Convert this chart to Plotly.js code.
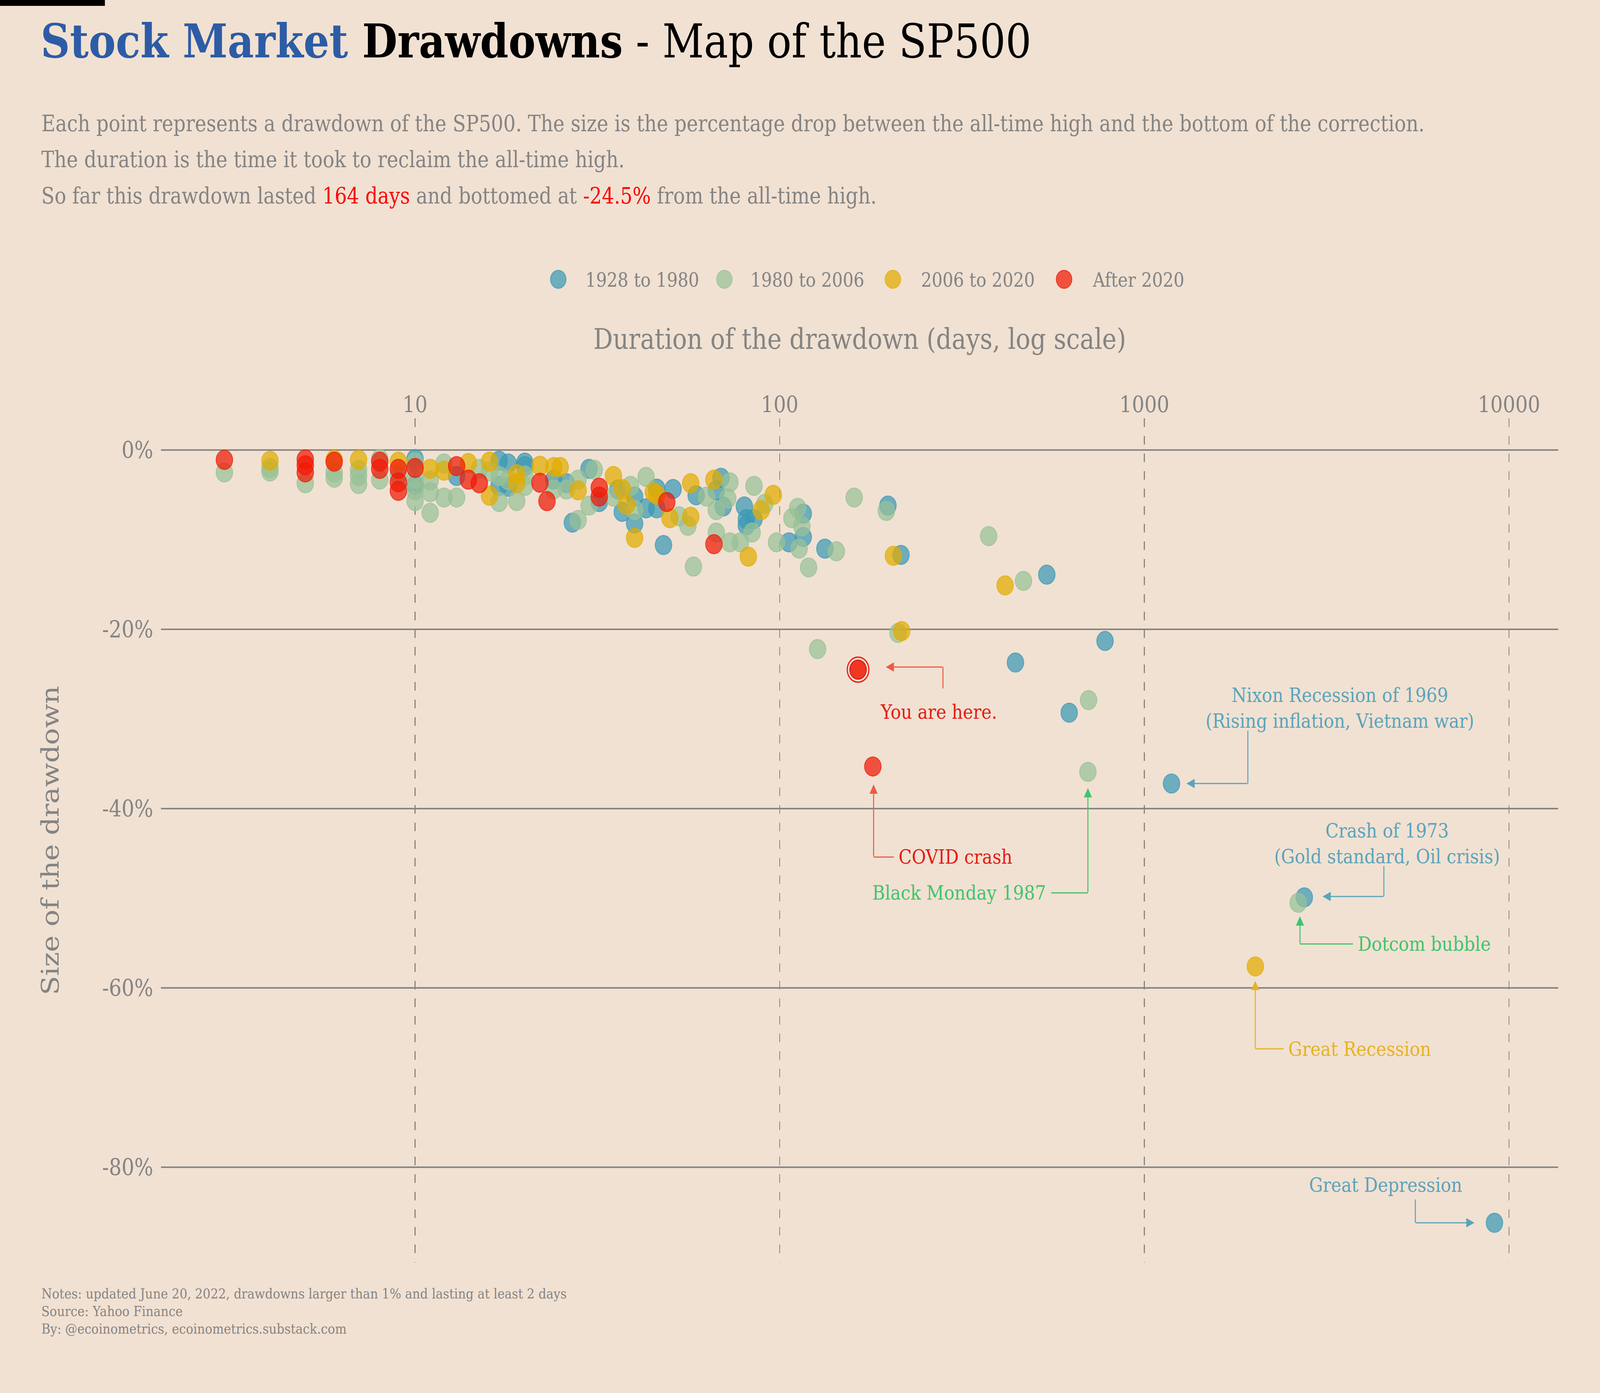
<!DOCTYPE html>
<html>
<head>
<meta charset="utf-8">
<script src="https://cdn.plot.ly/plotly-3.0.1.min.js"></script>
<style>
html,body{margin:0;padding:0;background:#f1e1d2;overflow:hidden;width:100%;height:100%;}
#frame{position:relative;width:100vw;height:100vh;overflow:hidden;}
#chart{position:absolute;left:0;top:0;width:4729px;height:3566px;transform-origin:0 0;}
</style>
</head>
<body>
<div id="frame"><div id="chart"></div></div>
<script>
// ---------------- DATA ----------------
// Duration of the drawdown (days) and size of the drawdown (%)
const era1928Days = [10,10,13,17,17,18,18,20,20,24,26,27,30,32,36,37,40,40,43,46,46,48,51,59,67,69,70,80,81,81,85,106,116,116,133,198,215,443,540,622,780,1187,2745,9120];
const era1928Drop = [-1.0,-3.9,-2.9,-1.2,-4.0,-1.5,-4.1,-1.8,-1.4,-3.3,-3.7,-8.1,-2.1,-5.8,-4.4,-6.9,-5.2,-8.2,-6.5,-4.3,-6.5,-10.6,-4.35,-5.05,-4.5,-3.1,-6.3,-6.3,-7.7,-8.4,-7.7,-10.3,-7.1,-9.7,-11.0,-6.2,-11.7,-23.7,-13.9,-29.3,-21.3,-37.2,-49.9,-86.2];

const era1980Days = [3,4,4,5,6,6,7,7,7,8,8,9,10,10,10,10,11,11,11,12,12,13,15,16,17,17,18,19,20,20,24,26,28,28,30,31,35,39,40,43,53,56,58,63,67,67,72,73,73,78,84,85,91,98,108,112,113,115,120,127,143,160,196,211,374,466,700,703,2641];
const era1980Drop = [-2.5,-2.0,-2.4,-3.7,-2.5,-3.1,-2.2,-2.9,-3.8,-1.0,-3.3,-2.8,-1.4,-3.2,-4.5,-5.7,-3.4,-4.7,-7.0,-1.5,-5.3,-5.3,-2.1,-2.4,-2.9,-5.8,-3.35,-5.7,-2.85,-4.0,-4.4,-4.4,-3.3,-7.8,-6.2,-2.2,-5.2,-4.0,-6.7,-3.0,-7.4,-8.45,-13.0,-5.2,-6.7,-9.2,-5.4,-3.6,-10.3,-10.3,-9.2,-4.0,-6.0,-10.3,-7.6,-6.45,-11.0,-8.5,-13.1,-22.2,-11.3,-5.3,-6.8,-20.4,-9.6,-14.6,-35.9,-27.9,-50.5];

const era2006Days = [4,6,7,9,11,12,14,16,16,19,19,22,24,25,28,35,37,38,40,45,46,50,57,57,66,82,89,96,205,216,415,2015];
const era2006Drop = [-1.2,-1.1,-1.1,-1.3,-2.1,-2.3,-1.45,-1.3,-5.1,-2.7,-3.7,-1.75,-1.9,-1.9,-4.5,-2.9,-4.35,-6.1,-9.8,-4.7,-5.0,-7.6,-3.7,-7.45,-3.3,-11.9,-6.7,-5.0,-11.8,-20.2,-15.1,-57.6];

const era2020Days = [3,5,5,5,6,8,8,9,9,9,10,13,14,15,22,23,32,32,49,66,180];
const era2020Drop = [-1.1,-1.05,-1.7,-2.5,-1.3,-1.3,-2.1,-2.1,-3.6,-4.55,-2.0,-1.8,-3.3,-3.7,-3.65,-5.7,-4.2,-5.2,-5.8,-10.5,-35.3];

const currentDays = [164];
const currentDrop = [-24.5];

const eraNames = ['1928 to 1980','1980 to 2006','2006 to 2020','After 2020'];
const xTickVals = [10,100,1000,10000];
const xTickText = ['10','100','1000','10000'];
const yTickVals = [0,-20,-40,-60,-80];
const yTickText = ['0%','-20%','-40%','-60%','-80%'];

// ---------------- SIZE ----------------
// The chart is laid out at the reference size and fitted to the viewport.
const W0 = 4729, H0 = 3566;

// ---------------- STYLE ----------------
const FONT = 'DejaVu Serif';
const BG = '#f1e1d2';
const GREY = '#848484';
const rgb = {blue:'58,152,180', green:'153,192,150', yellow:'226,172,0', red:'240,25,5'};
const A = 0.72;
const fill = k => `rgba(${rgb[k]},${A})`;
const edge = k => `rgba(${rgb[k]},${A})`;
const MS = 49;

// plot area in reference pixels (for paper-referenced items)
const L = 476, R = 4606, T = 1071, B = 3232;
const px = X => (X - L) / (R - L);
const py = Y => (B - Y) / (B - T);
const lg = Math.log10;

function era(name, xs, ys, k){
  return {type:'scatter', mode:'markers', name:name, x:xs, y:ys, showlegend:false,
    marker:{size:MS, color:fill(k), line:{color:edge(k), width:2.5}}, hoverinfo:'x+y+name'};
}
const traces = [
  era(eraNames[0], era1928Days, era1928Drop, 'blue'),
  era(eraNames[1], era1980Days, era1980Drop, 'green'),
  era(eraNames[2], era2006Days, era2006Drop, 'yellow'),
  era(eraNames[3], era2020Days, era2020Drop, 'red'),
  {type:'scatter', mode:'markers', name:'Current drawdown', x:currentDays, y:currentDrop, showlegend:false,
    marker:{size:64, symbol:'circle-open', color:'rgba(235,20,10,0.95)', line:{width:3.5}}},
  {type:'scatter', mode:'markers', name:'Current drawdown', x:currentDays, y:currentDrop, showlegend:false,
    marker:{size:MS, color:'rgba(240,25,5,0.85)', line:{color:'rgba(200,15,5,0.9)', width:2.5}}}
];

const cRed = '#e51a14', cRedLine = '#ee5a48';
const cBlue = '#5aa4bb', cGreen = '#3fc46e', cYellow = '#e6b223';
const annFont = (c) => ({family:FONT, size:51, color:c});

// elbow segments (data coords; shapes on a log axis take raw values)
function seg(x0,y0,x1,y1,c){
  return {type:'line', xref:'x', yref:'y', x0:x0, y0:y0, x1:x1, y1:y1, line:{color:c, width:3}, layer:'above'};
}
// last leg with arrowhead (annotations on a log axis take log10 values)
function arrow(xs,ys,xe,ye,c){
  return {xref:'x', yref:'y', axref:'x', ayref:'y', x:lg(xe), y:ye, ax:lg(xs), ay:ys, text:'',
    showarrow:true, arrowhead:2, arrowsize:1.6, arrowwidth:3, arrowcolor:c, standoff:0, startstandoff:0};
}
function label(text, xd, y, anchor, c){
  return {xref:'x', yref:'y', x:lg(xd), y:y, text:text, showarrow:false, xanchor:anchor, yanchor:'middle', align:'center', font:annFont(c)};
}

const shapes = [
  {type:'rect', xref:'paper', yref:'paper', x0:px(0), x1:px(310), y0:py(15), y1:py(0), fillcolor:'#000', line:{width:0}},
  seg(280.3,-26.6,280.3,-24.2,cRedLine),
  seg(180.9,-45.4,205.6,-45.4,cRedLine),
  seg(555,-49.4,700,-49.4,cGreen),
  seg(1922,-31.3,1922,-37.2,cBlue),
  seg(4537,-46.4,4537,-49.8,cBlue),
  seg(3733,-55.1,2671,-55.1,cGreen),
  seg(2410,-66.8,2014,-66.8,cYellow),
  seg(5534,-83.6,5534,-86.2,cBlue)
];

// legend drawn with large symbols like the reference
const legX = [1650,2141,2639,3145];
const legTX = [1728,2216,2720,3227];
const legK = ['blue','green','yellow','red'];
const legendAnn = [];
legK.forEach((k,i)=>{
  shapes.push({type:'circle', xref:'paper', yref:'paper', xsizemode:'pixel', ysizemode:'pixel',
    xanchor:px(legX[i]), yanchor:py(715), x0:-23, x1:23, y0:-23, y1:23,
    fillcolor:fill(k), line:{color:edge(k), width:2.5}});
  legendAnn.push({xref:'paper', yref:'paper', x:px(legTX[i]), y:py(717), text:eraNames[i], showarrow:false,
    xanchor:'left', yanchor:'middle', font:{family:FONT, size:50, color:GREY}});
});

const subFont = {family:FONT, size:57, color:GREY};
const footFont = {family:FONT, size:36, color:GREY};
const annotations = [
  {xref:'paper', yref:'paper', x:px(120), y:py(316), xanchor:'left', yanchor:'middle', showarrow:false, font:subFont,
   text:'Each point represents a drawdown of the SP500. The size is the percentage drop between the all-time high and the bottom of the correction.'},
  {xref:'paper', yref:'paper', x:px(120), y:py(408), xanchor:'left', yanchor:'middle', showarrow:false, font:subFont,
   text:'The duration is the time it took to reclaim the all-time high.'},
  {xref:'paper', yref:'paper', x:px(120), y:py(501), xanchor:'left', yanchor:'middle', showarrow:false, font:subFont,
   text:'So far this drawdown lasted <span style="color:#ff0000">164 days</span> and bottomed at <span style="color:#ff0000">-24.5%</span> from the all-time high.'},
  {xref:'paper', yref:'paper', x:px(120), y:py(3311), xanchor:'left', yanchor:'middle', showarrow:false, font:footFont,
   text:'Notes: updated June 20, 2022, drawdowns larger than 1% and lasting at least 2 days'},
  {xref:'paper', yref:'paper', x:px(120), y:py(3356), xanchor:'left', yanchor:'middle', showarrow:false, font:footFont,
   text:'Source: Yahoo Finance'},
  {xref:'paper', yref:'paper', x:px(120), y:py(3401), xanchor:'left', yanchor:'middle', showarrow:false, font:footFont,
   text:'By: @ecoinometrics, ecoinometrics.substack.com'},
  label('You are here.', 273, -29.2, 'center', cRed),
  label('COVID crash', 211, -45.4, 'left', cRed),
  label('Black Monday 1987', 540, -49.4, 'right', cGreen),
  label('Nixon Recession of 1969<br>(Rising inflation, Vietnam war)', 3436, -28.8, 'center', cBlue),
  label('Crash of 1973<br>(Gold standard, Oil crisis)', 4624, -43.9, 'center', cBlue),
  label('Dotcom bubble', 3832, -55.1, 'left', cGreen),
  label('Great Recession', 2472, -66.8, 'left', cYellow),
  label('Great Depression', 4592, -82.0, 'center', cBlue),
  arrow(280.3,-24.2,195.4,-24.2,cRedLine),
  arrow(180.9,-45.4,180.9,-37.3,cRedLine),
  arrow(700,-49.4,700,-37.7,cGreen),
  arrow(1922,-37.2,1305,-37.2,cBlue),
  arrow(4537,-49.8,3081,-49.8,cBlue),
  arrow(2671,-55.1,2671,-52.0,cGreen),
  arrow(2014,-66.8,2014,-59.2,cYellow),
  arrow(5534,-86.2,8035,-86.2,cBlue)
].concat(legendAnn);

const layout = {
  width:W0, height:H0,
  paper_bgcolor:BG, plot_bgcolor:BG,
  font:{family:FONT, color:GREY},
  margin:{l:L, r:W0-R, t:T, b:H0-B, autoexpand:false},
  showlegend:false,
  title:{
    text:'<span style="color:#2d5ca6"><b>Stock Market</b></span><b> Drawdowns</b> - Map of the SP500',
    xref:'container', yref:'container', x:120/W0, xanchor:'left', y:1-105/H0, yanchor:'middle',
    font:{family:FONT, size:120, color:'#000000'}
  },
  xaxis:{
    type:'log', range:[0.3034, 4.1353], side:'top',
    tickmode:'array', tickvals:xTickVals, ticktext:xTickText,
    ticks:'', ticklabelstandoff:3,
    tickfont:{family:FONT, size:58, color:GREY},
    showgrid:true, gridcolor:'#868686', gridwidth:3, griddash:'22px,23px',
    zeroline:false, showline:false, automargin:false,
    title:{text:'Duration of the drawdown (days, log scale)', font:{family:FONT, size:72, color:GREY}, standoff:84}
  },
  yaxis:{
    range:[-90.63, 3.53],
    tickmode:'array', tickvals:yTickVals, ticktext:yTickText,
    ticks:'', ticklabelstandoff:22,
    tickfont:{family:FONT, size:59, color:GREY},
    showgrid:true, gridcolor:'#868686', gridwidth:4,
    zeroline:false, showline:false, automargin:false,
    title:{text:'Size of the drawdown', font:{family:FONT, size:72, color:GREY}, standoff:104}
  },
  shapes:shapes,
  annotations:annotations
};

// fit the reference-sized chart exactly into the viewport
const vw = window.innerWidth || document.documentElement.clientWidth || W0;
const vh = window.innerHeight || document.documentElement.clientHeight || H0;
document.getElementById('chart').style.transform = `scale(${vw / W0}, ${vh / H0})`;

Plotly.newPlot('chart', traces, layout, {staticPlot:true, displayModeBar:false});
</script>
</body>
</html>
